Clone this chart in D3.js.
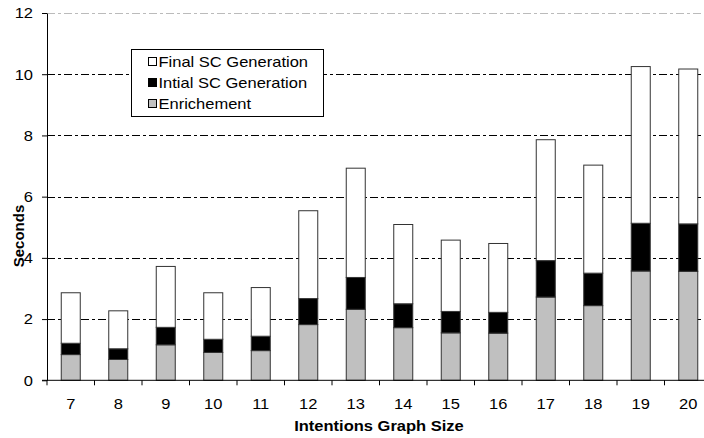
<!DOCTYPE html>
<html lang="en">
<head>
<meta charset="utf-8">
<script src="https://cdn.jsdelivr.net/npm/d3@7"></script>
<style>
  body { margin: 0; background: #fff; }
  svg { display: block; font-family: "Liberation Sans", Arial, sans-serif; }
  .grid line { stroke-dasharray: 8,3,3,3; }
  .axis text { font-size: 15px; fill: #000; }
  .axis path, .axis line { stroke: #000; }
</style>
</head>
<body>
<div id="chart"></div>
<script>
    // Values (seconds)
    const sizes = [7, 8, 9, 10, 11, 12, 13, 14, 15, 16, 17, 18, 19, 20];
    const enrichment = [0.84, 0.68, 1.16, 0.91, 0.97, 1.82, 2.32, 1.72, 1.55, 1.54, 2.72, 2.44, 3.57, 3.56];
    const initialGen = [0.37, 0.35, 0.57, 0.43, 0.47, 0.85, 1.04, 0.78, 0.70, 0.68, 1.19, 1.06, 1.56, 1.55];
    const finalGen   = [1.65, 1.24, 1.99, 1.52, 1.59, 2.87, 3.57, 2.59, 2.33, 2.25, 3.95, 3.53, 5.12, 5.06];
    const seriesNames = ["Enrichement", "Intial SC Generation", "Final SC Generation"];
    const seriesColors = ["#c0c0c0", "#000000", "#ffffff"];
    const yTicks = [0, 2, 4, 6, 8, 10, 12];

    const width = 704, height = 438;
    const margin = { left: 47, top: 13, bottom: 58 };
    const plotRight = 712; // last band runs past the picture edge
    const stretch = 1.1;   // reference text is drawn a little wide

    const rows = sizes.map((s, i) => ({
        size: s,
        "Enrichement": enrichment[i],
        "Intial SC Generation": initialGen[i],
        "Final SC Generation": finalGen[i]
    }));
    const stacked = d3.stack().keys(seriesNames)(rows);

    const svg = d3.select("#chart").append("svg")
        .attr("width", width)
        .attr("height", height);

    const x = d3.scaleBand()
        .domain(sizes)
        .range([margin.left, plotRight])
        .paddingInner(0.6)
        .paddingOuter(0.3);

    const y = d3.scaleLinear()
        .domain([0, 12])
        .range([height - margin.bottom + 0.3, margin.top]);

    // widen a text element horizontally
    function widen(sel) {
        sel.each(function() {
            const w = this.getComputedTextLength();
            d3.select(this)
                .attr("textLength", w * stretch)
                .attr("lengthAdjust", "spacingAndGlyphs");
        });
    }

    // gridlines
    svg.append("g")
        .attr("class", "grid")
        .selectAll("line")
        .data(yTicks.filter(d => d > 0))
        .enter().append("line")
        .attr("x1", margin.left)
        .attr("x2", width)
        .attr("y1", d => Math.round(y(d)) + 0.5)
        .attr("y2", d => Math.round(y(d)) + 0.5)
        .attr("stroke", d => d === 12 ? "#bbb" : "#000");

    // bars
    svg.append("g")
        .selectAll("g")
        .data(stacked)
        .enter().append("g")
        .attr("fill", (d, i) => seriesColors[i])
        .selectAll("rect")
        .data(d => d)
        .enter().append("rect")
        .attr("x", d => x(d.data.size))
        .attr("width", x.bandwidth())
        .attr("y", d => y(d[1]))
        .attr("height", d => y(d[0]) - y(d[1]))
        .attr("stroke", "#333")
        .attr("stroke-width", 1);

    // y axis
    const yAxis = svg.append("g")
        .attr("class", "axis")
        .attr("transform", `translate(${margin.left},0)`)
        .call(d3.axisLeft(y).tickValues(yTicks).tickSize(5).tickPadding(9).tickSizeOuter(0));
    yAxis.select(".domain").attr("stroke", "#555");
    yAxis.selectAll("text").call(widen);

    // x axis with ticks between categories
    const xAxis = svg.append("g")
        .attr("class", "axis")
        .attr("transform", `translate(0,${y(0)})`);
    xAxis.append("line")
        .attr("x1", margin.left - 5)
        .attr("x2", width)
        .attr("stroke", "#555");
    xAxis.selectAll(".sep")
        .data(sizes)
        .enter().append("line")
        .attr("class", "sep")
        .attr("x1", d => x(d) - x.step() * x.paddingInner() / 2)
        .attr("x2", d => x(d) - x.step() * x.paddingInner() / 2)
        .attr("y1", 0)
        .attr("y2", 5)
        .attr("stroke", "#000");
    xAxis.selectAll(".lbl")
        .data(sizes)
        .enter().append("text")
        .attr("class", "lbl")
        .attr("x", d => x(d) + x.bandwidth() / 2)
        .attr("y", 29)
        .attr("text-anchor", "middle")
        .text(d => d)
        .call(widen);

    // axis titles
    svg.append("text")
        .attr("x", 379)
        .attr("y", 431)
        .attr("text-anchor", "middle")
        .attr("font-size", 15)
        .attr("font-weight", "bold")
        .text("Intentions Graph Size")
        .call(widen);

    svg.append("text")
        .attr("transform", "translate(24,236) rotate(-90)")
        .attr("text-anchor", "middle")
        .attr("font-size", 15)
        .attr("font-weight", "bold")
        .text("Seconds");

    // legend
    const legend = svg.append("g").attr("transform", "translate(131.5,49.5)");
    legend.append("rect")
        .attr("width", 192)
        .attr("height", 67)
        .attr("fill", "#fff")
        .attr("stroke", "#000");
    const legendOrder = [2, 1, 0];
    const item = legend.selectAll(".item")
        .data(legendOrder)
        .enter().append("g")
        .attr("class", "item")
        .attr("transform", (d, i) => `translate(17,${12 + i * 21})`);
    item.append("rect")
        .attr("x", 0)
        .attr("y", -4)
        .attr("width", 8)
        .attr("height", 8)
        .attr("fill", d => seriesColors[d])
        .attr("stroke", "#000");
    item.append("text")
        .attr("x", 10)
        .attr("y", 5.5)
        .attr("font-size", 15)
        .text(d => seriesNames[d])
        .call(widen);
</script>
</body>
</html>
